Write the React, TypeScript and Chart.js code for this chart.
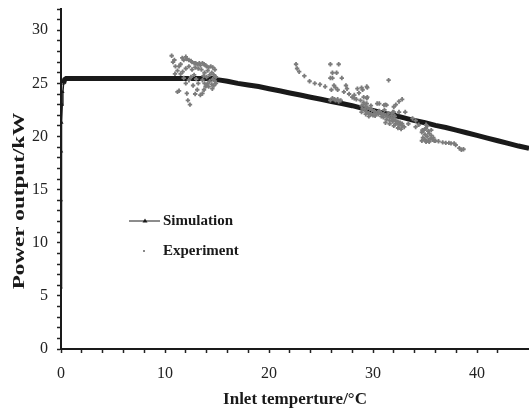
import React, { useEffect, useRef } from 'react';
import { Chart, registerables } from 'chart.js';

Chart.register(...registerables);

// Simulation curve: inlet temperature (°C) vs power output (kW)
const simT = [0, 0.02, 0.05, 0.08, 0.12, 0.18, 0.25, 0.35, 0.5, 1, 2, 3, 4, 5, 6, 7, 8, 9, 10, 11, 12, 13, 14, 14.5,
  15, 16, 17, 18, 19, 20, 21, 22, 23, 24, 25, 26, 27, 28, 29, 30, 31, 32, 33, 34, 35, 36, 37, 38, 39, 40, 41, 42, 43, 44, 45];
const simP = [5.8, 14.0, 18.6, 21.3, 23.0, 24.2, 25.0, 25.35, 25.45, 25.45, 25.45, 25.45, 25.45, 25.45, 25.45, 25.45, 25.45, 25.45, 25.45, 25.45, 25.45, 25.45, 25.45, 25.45,
  25.35, 25.2, 25.0, 24.85, 24.7, 24.5, 24.3, 24.1, 23.9, 23.7, 23.5, 23.3, 23.1, 22.9, 22.65, 22.45, 22.2, 22.0, 21.75, 21.5, 21.3, 21.05, 20.85, 20.6, 20.35, 20.1, 19.85, 19.6, 19.35, 19.1, 18.9];

// Experiment points
const expT = [
  10.64, 10.77, 10.96, 11.0, 11.2, 11.35, 11.5, 11.5, 11.66, 11.8, 11.8, 12.0, 12.0, 12.1, 12.3, 12.3, 12.5, 12.6, 12.8, 12.95, 13.1, 13.3, 13.4, 13.6, 13.75, 13.9,
  11.35, 12.1, 12.2, 12.4, 13.6, 13.75, 13.9, 14.1, 14.2, 14.55, 14.7, 11.2, 13.4,
  14.0, 14.2, 14.4, 14.6, 14.8, 14.1, 13.8, 14.5, 14.7, 14.9, 13.7, 14.0, 14.3, 14.6, 14.8, 13.6, 13.8, 14.3, 14.9, 14.5, 14.0, 13.5, 13.2, 12.9, 12.6, 12.3, 12.0, 11.7, 12.5, 12.8, 13.0, 13.2, 12.7, 13.1, 12.9, 10.9,
  22.6, 22.7, 22.9, 23.4, 23.9, 24.4, 24.9, 25.4,
  25.9, 26.7, 26.1, 26.5, 26.1, 27.0, 26.25, 26.4, 26.6, 26.0, 26.1, 26.4, 26.7, 25.9, 26.3, 26.6, 26.9, 25.9,
  27.4, 27.5, 27.2, 27.7, 28.0, 28.2, 28.4, 28.65, 29.0, 29.45, 29.1, 29.45, 31.5, 28.8, 28.5, 28.9, 29.4, 28.2, 29.4,
  28.9, 29.1, 29.3, 29.5, 29.7, 29.9, 30.1, 29.2, 29.4, 29.6, 29.8, 30.0, 30.2, 29.0, 29.3, 29.6, 30.3, 30.5, 28.9, 29.1, 29.4, 29.8,
  30.6, 30.8, 31.0, 31.2, 31.4, 31.6, 31.8, 32.0, 32.2, 32.4, 32.6, 32.8, 31.0, 31.3, 31.6, 31.9, 32.2, 32.5, 32.8, 33.0, 31.5, 31.8, 32.1, 30.8, 31.2, 31.6, 32.0, 32.4, 32.7, 31.1, 32.0,
  30.6, 31.2, 32.2, 32.5, 32.8, 32.5, 33.1, 31.9, 33.8, 34.1, 33.4, 34.4, 35.1, 34.75, 34.1, 32.0, 31.06, 30.4, 31.3,
  34.7, 34.9, 35.1, 35.3, 35.0, 35.2, 35.4, 35.6, 34.8, 35.0, 35.3, 35.5, 35.7, 35.9, 34.7, 35.1, 35.4, 35.8, 35.6, 35.2,
  36.0, 36.3, 36.7, 37.0, 37.3, 37.5, 37.8, 37.95, 38.3, 38.5, 38.7,
];
const expP = [
  27.6, 27.0, 25.9, 26.6, 26.2, 26.6, 26.8, 25.9, 27.4, 27.2, 25.5, 27.5, 25.0, 27.3, 27.2, 25.3, 27.1, 27.0, 26.9, 26.9, 26.8, 26.9, 26.7, 26.9, 26.8, 26.7,
  24.3, 24.05, 23.4, 23.0, 24.05, 24.4, 24.7, 25.0, 24.7, 24.5, 24.8, 24.2, 23.9,
  26.6, 26.5, 26.6, 26.5, 26.3, 26.2, 26.0, 26.0, 25.8, 25.6, 25.7, 25.6, 25.8, 25.4, 25.2, 25.3, 25.0, 25.2, 25.0, 24.9, 24.8, 26.3, 26.4, 26.5, 26.3, 26.6, 26.4, 26.1, 25.6, 25.8, 25.4, 25.0, 24.8, 24.4, 24.0, 27.2,
  26.8, 26.4, 26.1, 25.7, 25.2, 25.0, 24.9, 24.7,
  26.8, 26.8, 26.0, 26.0, 25.5, 25.5, 24.8, 24.6, 24.4, 24.4, 23.6, 23.4, 23.3, 23.4, 23.5, 23.5, 23.4, 25.5,
  24.8, 24.5, 24.2, 24.0, 23.7, 23.6, 23.5, 24.1, 24.4, 24.6, 23.7, 23.7, 25.3, 23.4, 24.5, 24.6, 24.7, 23.9, 23.6,
  22.9, 23.0, 22.8, 22.7, 22.6, 22.5, 22.4, 22.5, 22.3, 22.2, 22.1, 22.0, 21.95, 22.6, 22.1, 21.9, 22.2, 22.1, 22.3, 23.2, 23.1, 22.9,
  22.4, 22.2, 22.1, 22.0, 21.9, 21.8, 21.7, 21.6, 21.5, 21.4, 21.3, 21.2, 21.8, 21.6, 21.5, 21.4, 21.2, 21.1, 21.0, 20.9, 22.2, 22.0, 21.9, 21.9, 21.3, 21.2, 21.0, 20.8, 20.7, 22.5, 22.3,
  23.1, 23.0, 23.0, 23.3, 23.5, 22.3, 22.3, 22.3, 21.7, 21.5, 21.2, 21.1, 21.1, 20.6, 20.9, 22.8, 22.95, 23.1, 22.95,
  20.4, 20.6, 20.8, 20.5, 20.2, 20.0, 20.3, 20.1, 19.9, 19.7, 19.6, 19.8, 19.7, 19.6, 19.6, 19.5, 19.5, 19.9, 20.6, 21.0,
  19.6, 19.55, 19.45, 19.4, 19.4, 19.35, 19.35, 19.2, 18.9, 18.75, 18.8,
];

const xLabelValues = [0, 10, 20, 30, 40];
const yLabelValues = [0, 5, 10, 15, 20, 25, 30];
const seriesNames = ['Simulation', 'Experiment'];
const xTitle = 'Inlet temperture/°C';
const yTitle = 'Power output/kW';

const SERIF = '"Liberation Serif", "Times New Roman", serif';

const overlayPlugin = {
  id: 'insideLegendAndYTitle',
  afterDraw(chart: any) {
    const ctx = chart.ctx;
    const names = chart.data.datasets.map((d: any) => d.label);
    ctx.save();
    // Simulation legend entry
    ctx.strokeStyle = '#1a1a1a';
    ctx.lineWidth = 1;
    ctx.beginPath();
    ctx.moveTo(129, 221);
    ctx.lineTo(160, 221);
    ctx.stroke();
    ctx.fillStyle = '#1a1a1a';
    ctx.beginPath();
    ctx.moveTo(145, 218.5);
    ctx.lineTo(147.5, 222.5);
    ctx.lineTo(142.5, 222.5);
    ctx.closePath();
    ctx.fill();
    // Experiment legend entry
    ctx.fillStyle = '#8a8a8a';
    ctx.fillRect(143, 250, 2, 2);
    ctx.fillStyle = '#1a1a1a';
    ctx.font = 'bold 15px ' + SERIF;
    ctx.textBaseline = 'middle';
    ctx.textAlign = 'left';
    ctx.fillText(names[0], 163, 221);
    ctx.fillText(names[1], 163, 251);
    ctx.restore();

    // Y axis title (stretched along its length as in the reference)
    ctx.save();
    ctx.translate(20, 201);
    ctx.rotate(-Math.PI / 2);
    ctx.scale(1.36, 1);
    ctx.font = 'bold 17px ' + SERIF;
    ctx.fillStyle = '#1a1a1a';
    ctx.textAlign = 'center';
    ctx.textBaseline = 'middle';
    ctx.fillText(yTitle, 0, 0);
    ctx.restore();
  },
};

export default function App() {
  const ref = useRef<HTMLCanvasElement | null>(null);

  useEffect(() => {
    document.body.style.margin = '0';
    const canvas = ref.current;
    if (!canvas) return;
    const simData = simT.map((t, i) => ({ x: t, y: simP[i] }));
    const expData = expT.map((t, i) => ({ x: t, y: expP[i] }));

    const chart = new Chart(canvas, {
      type: 'scatter',
      data: {
        datasets: [
          {
            label: seriesNames[0],
            data: simData,
            showLine: true,
            borderColor: '#1a1a1a',
            backgroundColor: '#1a1a1a',
            borderWidth: 5,
            pointStyle: 'triangle',
            pointRadius: 2,
            pointBorderWidth: 0,
            order: 2,
            segment: {
              borderWidth: (c: any) => (c.p1.parsed.x <= 0.25 ? 1.5 : 5),
            },
          } as any,
          {
            label: seriesNames[1],
            data: expData,
            showLine: false,
            borderColor: '#7c7c7c',
            backgroundColor: '#7c7c7c',
            pointStyle: 'cross',
            pointRadius: 2.2,
            pointBorderWidth: 1.8,
            order: 1,
          } as any,
        ],
      },
      options: {
        responsive: false,
        animation: false,
        layout: { autoPadding: false, padding: { top: 9, right: 0, left: 0, bottom: 0 } },
        plugins: {
          legend: { display: false },
          tooltip: { enabled: false },
        },
        scales: {
          x: {
            type: 'linear',
            min: 0,
            max: 45,
            afterBuildTicks: (scale: any) => {
              scale.ticks = scale.ticks.filter((t: any) => t.value % 2 === 0);
            },
            afterFit: (scale: any) => {
              scale.height = 63;
              scale.paddingRight = 0;
            },
            ticks: {
              stepSize: 2,
              autoSkip: false,
              maxRotation: 0,
              padding: 11,
              color: '#222',
              font: { family: SERIF, size: 16 },
              callback: (v: any) => (xLabelValues.includes(Number(v)) ? String(v) : ''),
            },
            grid: {
              drawOnChartArea: false,
              drawTicks: true,
              tickLength: 4,
              tickColor: '#222',
              tickWidth: 1.5,
            },
            border: { display: true, color: '#1a1a1a', width: 2 },
            title: {
              display: true,
              text: xTitle,
              color: '#1a1a1a',
              font: { family: SERIF, size: 17, weight: 'bold' },
              padding: { top: 4, bottom: 2 },
            },
          },
          y: {
            type: 'linear',
            min: 0,
            max: 32,
            afterFit: (scale: any) => {
              scale.width = 61;
              scale.paddingTop = 0;
              scale.paddingBottom = 0;
            },
            ticks: {
              stepSize: 1,
              autoSkip: false,
              padding: 9,
              color: '#222',
              font: { family: SERIF, size: 16 },
              callback: (v: any) => (yLabelValues.includes(Number(v)) ? String(v) : ''),
            },
            grid: {
              drawOnChartArea: false,
              drawTicks: true,
              tickLength: 4,
              tickColor: '#222',
              tickWidth: 1.5,
            },
            border: { display: true, color: '#1a1a1a', width: 2 },
            title: { display: false },
          },
        },
      } as any,
      plugins: [overlayPlugin],
    });
    return () => chart.destroy();
  }, []);

  return (
    <div style={{ width: 529, height: 412 }}>
      <canvas ref={ref} width={529} height={412} style={{ display: 'block' }} />
    </div>
  );
}
